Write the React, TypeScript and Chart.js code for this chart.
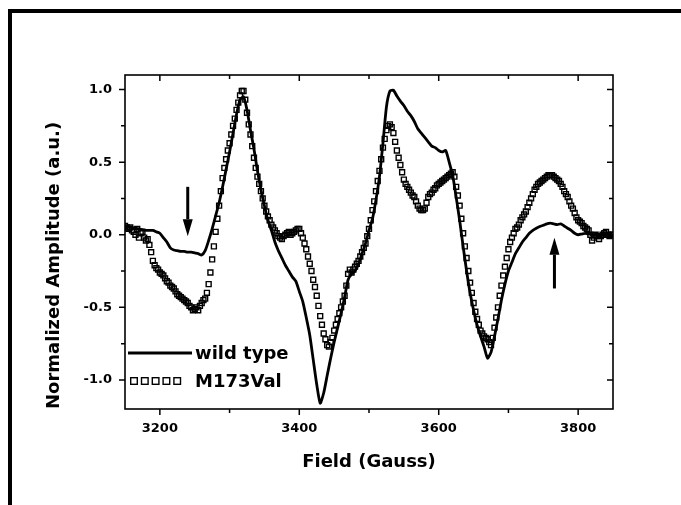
import React, { useEffect, useRef } from 'react';
import { Chart, registerables } from 'chart.js';

Chart.register(...registerables);

// Magnetic field (Gauss) for the wild type trace
const FIELD_WT = [
  3150, 3155, 3160, 3165, 3170, 3175, 3180, 3185, 3190, 3195,
  3200, 3205, 3210, 3215, 3220, 3225, 3230, 3235, 3240, 3245,
  3250, 3255, 3260, 3265, 3270, 3275, 3280, 3285, 3290, 3295,
  3300, 3305, 3310, 3315, 3320, 3325, 3330, 3335, 3340, 3345,
  3350, 3355, 3360, 3365, 3370, 3375, 3380, 3385, 3390, 3395,
  3400, 3405, 3410, 3415, 3420, 3425, 3430, 3435, 3440, 3445,
  3450, 3455, 3460, 3465, 3470, 3475, 3480, 3485, 3490, 3495,
  3500, 3505, 3510, 3515, 3520, 3525, 3530, 3535, 3540, 3545,
  3550, 3555, 3560, 3565, 3570, 3575, 3580, 3585, 3590, 3595,
  3600, 3605, 3610, 3615, 3620, 3625, 3630, 3635, 3640, 3645,
  3650, 3655, 3660, 3665, 3670, 3675, 3680, 3685, 3690, 3695,
  3700, 3705, 3710, 3715, 3720, 3725, 3730, 3735, 3740, 3745,
  3750, 3755, 3760, 3765, 3770, 3775, 3780, 3785, 3790, 3795,
  3800, 3805, 3810, 3815, 3820, 3825, 3830, 3835, 3840, 3845,
  3850,
];

const WILD_TYPE = [
  0.06, 0.055, 0.05, 0.045, 0.04, 0.035, 0.03, 0.03, 0.03, 0.02,
  0.01, -0.02, -0.05, -0.09, -0.105, -0.11, -0.115, -0.115, -0.12, -0.12,
  -0.125, -0.13, -0.14, -0.11, -0.04, 0.04, 0.13, 0.22, 0.33, 0.45,
  0.57, 0.70, 0.83, 0.93, 0.95, 0.86, 0.72, 0.59, 0.44, 0.31,
  0.2, 0.1, 0.03, -0.05, -0.11, -0.16, -0.21, -0.25, -0.29, -0.32,
  -0.39, -0.46, -0.57, -0.69, -0.86, -1.03, -1.16, -1.09, -0.97, -0.85,
  -0.74, -0.64, -0.54, -0.43, -0.31, -0.27, -0.25, -0.2, -0.13, -0.06,
  0.03, 0.11, 0.24, 0.4, 0.63, 0.88, 0.99, 0.995, 0.955, 0.92,
  0.89, 0.85, 0.82, 0.78, 0.73, 0.7, 0.67, 0.64, 0.61, 0.6,
  0.58, 0.57, 0.58, 0.5, 0.41, 0.26, 0.1, -0.08, -0.25, -0.4,
  -0.52, -0.62, -0.7, -0.77, -0.85, -0.81, -0.7, -0.58, -0.45, -0.34,
  -0.25, -0.19, -0.13, -0.09, -0.05, -0.02, 0.01, 0.03, 0.045, 0.057,
  0.065, 0.075, 0.08, 0.075, 0.07, 0.075, 0.06, 0.045, 0.03, 0.01,
  0.0, 0.005, 0.01, 0.005, 0.0, 0.0, -0.005, 0.0, 0.0, -0.01,
  -0.01,
];

// Magnetic field (Gauss) for the M173Val trace
const FIELD_MUT = [
  3150, 3152.5, 3155, 3157.5, 3160, 3162.5, 3165, 3167.5, 3170, 3172.5,
  3175, 3177.5, 3180, 3182.5, 3185, 3187.5, 3190, 3192.5, 3195, 3197.5,
  3200, 3202.5, 3205, 3207.5, 3210, 3212.5, 3215, 3217.5, 3220, 3222.5,
  3225, 3227.5, 3230, 3232.5, 3235, 3237.5, 3240, 3242.5, 3245, 3247.5,
  3250, 3252.5, 3255, 3257.5, 3260, 3262.5, 3265, 3267.5, 3270, 3272.5,
  3275, 3277.5, 3280, 3282.5, 3285, 3287.5, 3290, 3292.5, 3295, 3297.5,
  3300, 3302.5, 3305, 3307.5, 3310, 3312.5, 3315, 3317.5, 3320, 3322.5,
  3325, 3327.5, 3330, 3332.5, 3335, 3337.5, 3340, 3342.5, 3345, 3347.5,
  3350, 3352.5, 3355, 3357.5, 3360, 3362.5, 3365, 3367.5, 3370, 3372.5,
  3375, 3377.5, 3380, 3382.5, 3385, 3387.5, 3390, 3392.5, 3395, 3397.5,
  3400, 3402.5, 3405, 3407.5, 3410, 3412.5, 3415, 3417.5, 3420, 3422.5,
  3425, 3427.5, 3430, 3432.5, 3435, 3437.5, 3440, 3442.5, 3445, 3447.5,
  3450, 3452.5, 3455, 3457.5, 3460, 3462.5, 3465, 3467.5, 3470, 3472.5,
  3475, 3477.5, 3480, 3482.5, 3485, 3487.5, 3490, 3492.5, 3495, 3497.5,
  3500, 3502.5, 3505, 3507.5, 3510, 3512.5, 3515, 3517.5, 3520, 3522.5,
  3525, 3527.5, 3530, 3532.5, 3535, 3537.5, 3540, 3542.5, 3545, 3547.5,
  3550, 3552.5, 3555, 3557.5, 3560, 3562.5, 3565, 3567.5, 3570, 3572.5,
  3575, 3577.5, 3580, 3582.5, 3585, 3587.5, 3590, 3592.5, 3595, 3597.5,
  3600, 3602.5, 3605, 3607.5, 3610, 3612.5, 3615, 3617.5, 3620, 3622.5,
  3625, 3627.5, 3630, 3632.5, 3635, 3637.5, 3640, 3642.5, 3645, 3647.5,
  3650, 3652.5, 3655, 3657.5, 3660, 3662.5, 3665, 3667.5, 3670, 3672.5,
  3675, 3677.5, 3680, 3682.5, 3685, 3687.5, 3690, 3692.5, 3695, 3697.5,
  3700, 3702.5, 3705, 3707.5, 3710, 3712.5, 3715, 3717.5, 3720, 3722.5,
  3725, 3727.5, 3730, 3732.5, 3735, 3737.5, 3740, 3742.5, 3745, 3747.5,
  3750, 3752.5, 3755, 3757.5, 3760, 3762.5, 3765, 3767.5, 3770, 3772.5,
  3775, 3777.5, 3780, 3782.5, 3785, 3787.5, 3790, 3792.5, 3795, 3797.5,
  3800, 3802.5, 3805, 3807.5, 3810, 3812.5, 3815, 3817.5, 3820, 3822.5,
  3825, 3827.5, 3830, 3832.5, 3835, 3837.5, 3840, 3842.5, 3845, 3847.5,
  3850,
];

const M173VAL = [
  0.06, 0.05, 0.04, 0.05, 0.03, 0.02, 0.0, 0.04, -0.02, 0.01,
  0.02, -0.02, -0.04, -0.03, -0.07, -0.12, -0.18, -0.21, -0.23, -0.24,
  -0.26, -0.27, -0.28, -0.3, -0.32, -0.33, -0.35, -0.36, -0.37, -0.39,
  -0.41, -0.42, -0.43, -0.44, -0.45, -0.46, -0.47, -0.49, -0.5, -0.52,
  -0.51, -0.5, -0.52, -0.49, -0.47, -0.45, -0.44, -0.4, -0.34, -0.26,
  -0.17, -0.08, 0.02, 0.11, 0.2, 0.3, 0.39, 0.46, 0.52, 0.58,
  0.63, 0.69, 0.75, 0.8, 0.86, 0.91, 0.96, 0.99, 0.99, 0.93,
  0.84, 0.76, 0.69, 0.61, 0.53, 0.46, 0.4, 0.35, 0.3, 0.25,
  0.2, 0.16, 0.126, 0.1, 0.07, 0.05, 0.03, 0.01, -0.01, -0.02,
  -0.03, -0.01, 0.0, 0.01, 0.02, 0.0, 0.01, 0.02, 0.03, 0.04,
  0.04, 0.01, -0.02, -0.06, -0.1, -0.15, -0.2, -0.25, -0.31, -0.36,
  -0.42, -0.49, -0.56, -0.62, -0.68, -0.72, -0.76, -0.77, -0.74, -0.71,
  -0.66, -0.62, -0.58, -0.54, -0.5, -0.46, -0.42, -0.35, -0.27, -0.24,
  -0.26, -0.24, -0.22, -0.2, -0.18, -0.15, -0.12, -0.09, -0.06, -0.01,
  0.04, 0.1, 0.17, 0.23, 0.3, 0.37, 0.44, 0.52, 0.6, 0.66,
  0.72, 0.75, 0.76, 0.74, 0.7, 0.64, 0.58, 0.53, 0.48, 0.43,
  0.38, 0.35, 0.33, 0.31, 0.29, 0.27, 0.26, 0.23, 0.2, 0.18,
  0.17, 0.17, 0.18, 0.22, 0.26, 0.28, 0.29, 0.31, 0.32, 0.34,
  0.35, 0.36, 0.37, 0.38, 0.39, 0.4, 0.41, 0.42, 0.43, 0.4,
  0.33, 0.27, 0.2, 0.11, 0.01, -0.08, -0.16, -0.25, -0.33, -0.4,
  -0.47, -0.53, -0.58, -0.62, -0.66, -0.68, -0.7, -0.71, -0.72, -0.74,
  -0.76, -0.71, -0.64, -0.57, -0.5, -0.42, -0.35, -0.28, -0.22, -0.16,
  -0.1, -0.05, -0.02, 0.01, 0.04, 0.05, 0.07, 0.1, 0.12, 0.14,
  0.16, 0.19, 0.22, 0.25, 0.28, 0.31, 0.33, 0.35, 0.36, 0.37,
  0.38, 0.39, 0.4, 0.41, 0.41, 0.41, 0.4, 0.39, 0.38, 0.37,
  0.35, 0.33, 0.3, 0.28, 0.26, 0.23, 0.2, 0.18, 0.15, 0.12,
  0.1, 0.09, 0.08, 0.06, 0.05, 0.04, 0.03, 0.0, -0.04, -0.02,
  0.0, -0.01, -0.03, -0.01, 0.0, 0.01, 0.02, 0.0, -0.01, 0.0,
  0.0,
];

const SERIES_NAMES = ['wild type', 'M173Val'];
const X_TITLE = 'Field (Gauss)';
const Y_TITLE = 'Normalized Amplitude (a.u.)';
const X_RANGE = [3150, 3850];
const Y_RANGE = [-1.2, 1.1];
const X_TICKS = [3200, 3400, 3600, 3800];
const X_MINOR = [3300, 3500, 3700];
const Y_TICKS = [-1.0, -0.5, 0.0, 0.5, 1.0];
const Y_MINOR = [-0.75, -0.25, 0.25, 0.75];
const Y_TICK_LABELS = ['-1.0', '-0.5', '0.0', '0.5', '1.0'];
const X_TICK_LABELS = ['3200', '3400', '3600', '3800'];
// Arrows: field position, start amplitude, tip amplitude
const ARROW_FIELD = [3240, 3766];
const ARROW_FROM = [0.33, -0.37];
const ARROW_TO = [-0.01, -0.02];

const FONT = 'DejaVu Sans';

const decorPlugin = {
  id: 'decor',
  afterDraw(chart: any) {
    const { ctx, chartArea: a, scales } = chart;
    const xs = scales.x;
    const ys = scales.y;
    ctx.save();
    ctx.fillStyle = '#000';
    ctx.strokeStyle = '#000';

    // outer page frame (top and left)
    ctx.fillRect(8, 9, chart.width - 8, 4);
    ctx.fillRect(8, 9, 4, chart.height - 9);

    // plot frame
    ctx.lineWidth = 1.6;
    ctx.strokeRect(a.left, a.top, a.right - a.left, a.bottom - a.top);

    // tick marks
    ctx.lineWidth = 1.5;
    ctx.beginPath();
    const yTick = (v: number, len: number) => {
      const py = ys.getPixelForValue(v);
      ctx.moveTo(a.left - len, py);
      ctx.lineTo(a.left, py);
      ctx.moveTo(a.right, py);
      ctx.lineTo(a.right - len, py);
    };
    const xTick = (v: number, len: number) => {
      const px = xs.getPixelForValue(v);
      ctx.moveTo(px, a.bottom);
      ctx.lineTo(px, a.bottom + len);
      ctx.moveTo(px, a.top);
      ctx.lineTo(px, a.top + len);
    };
    Y_TICKS.forEach((v) => yTick(v, 6));
    Y_MINOR.forEach((v) => yTick(v, 4));
    X_TICKS.forEach((v) => xTick(v, 6));
    X_MINOR.forEach((v) => xTick(v, 4));
    ctx.stroke();

    // arrows
    ARROW_FIELD.forEach((f, i) => {
      const px = xs.getPixelForValue(f);
      const y1 = ys.getPixelForValue(ARROW_FROM[i]);
      const y2 = ys.getPixelForValue(ARROW_TO[i]);
      const dir = y2 > y1 ? 1 : -1;
      const head = 17;
      ctx.lineWidth = 3;
      ctx.beginPath();
      ctx.moveTo(px, y1);
      ctx.lineTo(px, y2 - dir * head);
      ctx.stroke();
      ctx.beginPath();
      ctx.moveTo(px, y2);
      ctx.lineTo(px - 5, y2 - dir * head);
      ctx.lineTo(px + 5, y2 - dir * head);
      ctx.closePath();
      ctx.fill();
    });

    // legend
    const lx = a.left + 3;
    const lw = 64;
    const row1 = 353;
    const row2 = 381;
    ctx.lineWidth = 2.8;
    ctx.beginPath();
    ctx.moveTo(lx, row1);
    ctx.lineTo(lx + lw, row1);
    ctx.stroke();
    ctx.lineWidth = 1.4;
    for (let k = 0; k < 5; k++) {
      const cx = lx + 6 + k * 10.8;
      ctx.strokeRect(cx - 3.3, row2 - 3.3, 6.6, 6.6);
    }
    ctx.font = `bold 18px "${FONT}"`;
    ctx.textBaseline = 'middle';
    ctx.textAlign = 'left';
    ctx.fillText(SERIES_NAMES[0], lx + lw + 3, row1 + 1);
    ctx.fillText(SERIES_NAMES[1], lx + lw + 3, row2 + 1);
    ctx.restore();
  },
};

export default function App() {
  const ref = useRef<HTMLCanvasElement | null>(null);

  useEffect(() => {
    if (!ref.current) return;
    const chart = new Chart(ref.current, {
      type: 'line',
      data: {
        datasets: [
          {
            label: SERIES_NAMES[0],
            data: FIELD_WT.map((f, i) => ({ x: f, y: WILD_TYPE[i] })),
            borderColor: '#000',
            borderWidth: 2.8,
            pointRadius: 0,
            tension: 0.2,
            fill: false,
            order: 0,
          },
          {
            label: SERIES_NAMES[1],
            data: FIELD_MUT.map((f, i) => ({ x: f, y: M173VAL[i] })),
            showLine: false,
            pointStyle: 'rect',
            pointRadius: 3.5,
            pointBorderWidth: 1.4,
            pointBorderColor: '#000',
            pointBackgroundColor: 'rgba(255,255,255,0)',
            order: 1,
          },
        ],
      },
      options: {
        animation: false,
        responsive: true,
        maintainAspectRatio: false,
        layout: { padding: { left: 0, right: 68, top: 75, bottom: 0 } },
        plugins: {
          legend: { display: false },
          tooltip: { enabled: false },
        },
        scales: {
          x: {
            type: 'linear',
            min: X_RANGE[0],
            max: X_RANGE[1],
            grid: { display: false, drawTicks: false },
            border: { display: false },
            afterBuildTicks: (s: any) => {
              s.ticks = X_TICKS.map((v) => ({ value: v }));
            },
            afterFit: (s: any) => {
              s.height = 96;
            },
            ticks: {
              color: '#000',
              padding: 12,
              maxRotation: 0,
              font: { family: FONT, size: 13, weight: 'bold' },
              callback: (v: any) => {
                const i = X_TICKS.indexOf(Number(v));
                return i >= 0 ? X_TICK_LABELS[i] : '';
              },
            },
            title: {
              display: true,
              text: X_TITLE,
              color: '#000',
              font: { family: FONT, size: 18, weight: 'bold' },
              padding: { top: 0, bottom: 32 },
            },
          },
          y: {
            type: 'linear',
            min: Y_RANGE[0],
            max: Y_RANGE[1],
            grid: { display: false, drawTicks: false },
            border: { display: false },
            afterBuildTicks: (s: any) => {
              s.ticks = Y_TICKS.map((v) => ({ value: v }));
            },
            afterFit: (s: any) => {
              s.width = 125;
            },
            ticks: {
              color: '#000',
              padding: 13,
              font: { family: FONT, size: 13, weight: 'bold' },
              callback: (v: any) => {
                const i = Y_TICKS.findIndex((t) => Math.abs(t - Number(v)) < 1e-6);
                return i >= 0 ? Y_TICK_LABELS[i] : '';
              },
            },
            title: {
              display: true,
              text: Y_TITLE,
              align: 'start',
              color: '#000',
              font: { family: FONT, size: 18, weight: 'bold' },
              padding: { top: 44, bottom: 0 },
            },
          },
        },
      },
      plugins: [decorPlugin],
    } as any);
    return () => chart.destroy();
  }, []);

  return (
    <div style={{ position: 'fixed', left: 0, top: 0, width: 681, height: 505, background: '#fff' }}>
      <canvas ref={ref} />
    </div>
  );
}
